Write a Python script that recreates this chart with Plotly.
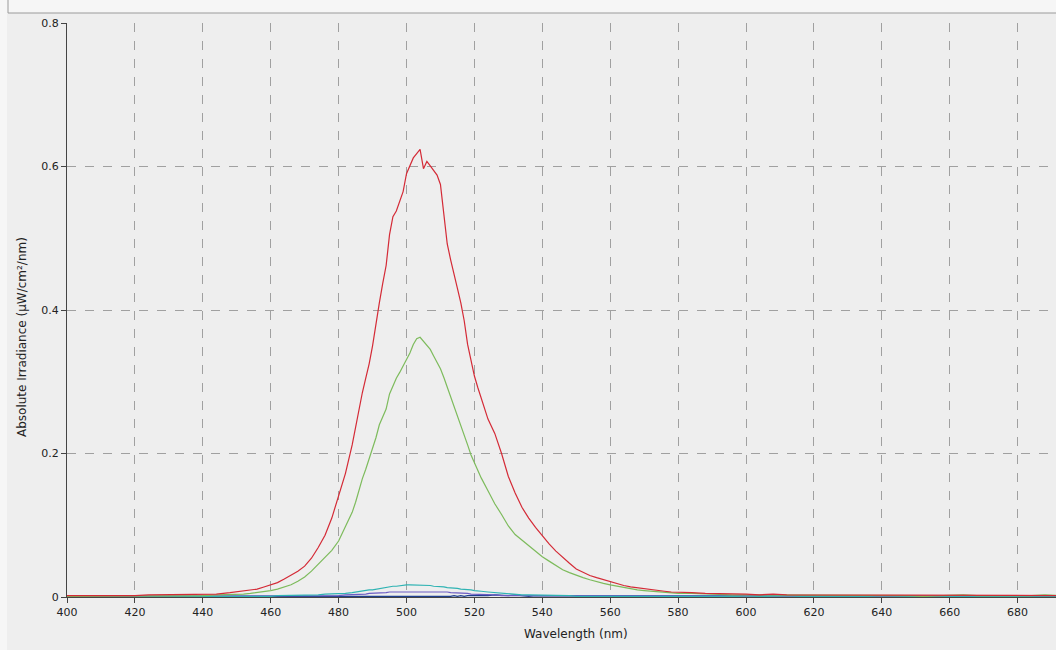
import plotly.graph_objects as go

# wavelength grid (nm)
wl = ([400, 404, 408, 412, 416, 420, 424, 428, 432, 436, 440, 444, 448]
      + list(range(450, 483, 2))
      + list(range(484, 523, 1))
      + list(range(524, 581, 2))
      + list(range(584, 693, 4)))

red = ([0.002, 0.002, 0.001, 0.002, 0.002, 0.002, 0.003, 0.003, 0.003, 0.003, 0.004, 0.004, 0.006]
       + [0.007, 0.008, 0.009, 0.011, 0.014, 0.017, 0.020, 0.025, 0.030, 0.036, 0.043, 0.054, 0.069, 0.086, 0.110, 0.142, 0.172]
       + [0.212, 0.238, 0.262, 0.285, 0.305, 0.325, 0.350, 0.383, 0.410, 0.437, 0.462, 0.505, 0.530, 0.538, 0.552, 0.565,
          0.590, 0.602, 0.612, 0.618, 0.624, 0.597, 0.607, 0.601, 0.595, 0.588, 0.575, 0.535, 0.492, 0.470, 0.448, 0.430,
          0.410, 0.385, 0.352, 0.328, 0.308, 0.292, 0.277]
       + [0.248, 0.228, 0.200, 0.168, 0.145, 0.125, 0.110, 0.097, 0.085, 0.074, 0.064, 0.055, 0.047, 0.039, 0.034, 0.030,
          0.027, 0.024, 0.021, 0.018, 0.016, 0.014, 0.013, 0.011, 0.010, 0.009, 0.008, 0.007, 0.007]
       + [0.006, 0.005, 0.005, 0.004, 0.004, 0.003, 0.004, 0.003, 0.003, 0.002, 0.003, 0.003, 0.002, 0.003, 0.002, 0.003,
          0.002, 0.002, 0.003, 0.002, 0.002, 0.003, 0.002, 0.002, 0.003, 0.002, 0.002, 0.002])

green = ([0.001, 0.001, 0.001, 0.001, 0.001, 0.001, 0.002, 0.002, 0.002, 0.002, 0.002, 0.003, 0.003]
         + [0.004, 0.004, 0.005, 0.006, 0.007, 0.009, 0.011, 0.014, 0.017, 0.022, 0.028, 0.036, 0.046, 0.056, 0.065, 0.078, 0.098]
         + [0.118, 0.132, 0.150, 0.165, 0.178, 0.192, 0.205, 0.222, 0.240, 0.252, 0.262, 0.283, 0.295, 0.305, 0.313, 0.322,
            0.330, 0.340, 0.352, 0.360, 0.362, 0.356, 0.350, 0.345, 0.336, 0.328, 0.318, 0.306, 0.293, 0.280, 0.266, 0.254,
            0.240, 0.227, 0.212, 0.198, 0.187, 0.177, 0.166]
         + [0.148, 0.130, 0.115, 0.099, 0.087, 0.079, 0.071, 0.063, 0.056, 0.050, 0.044, 0.038, 0.034, 0.030, 0.027, 0.024,
            0.021, 0.019, 0.017, 0.015, 0.013, 0.011, 0.010, 0.009, 0.008, 0.007, 0.006, 0.006, 0.005]
         + [0.005, 0.004, 0.004, 0.003, 0.003, 0.003, 0.002, 0.003, 0.002, 0.002, 0.003, 0.002, 0.002, 0.002, 0.003, 0.002,
            0.002, 0.001, 0.002, 0.002, 0.003, 0.002, 0.002, 0.001, 0.002, 0.002, 0.003, 0.002])

teal = ([0.000, 0.001, 0.000, 0.000, 0.001, 0.000, 0.000, 0.001, 0.000, 0.000, 0.000, 0.001, 0.001]
        + [0.001, 0.001, 0.001, 0.001, 0.001, 0.001, 0.002, 0.002, 0.002, 0.002, 0.003, 0.003, 0.003, 0.004, 0.004, 0.005, 0.005]
        + [0.006, 0.007, 0.007, 0.008, 0.009, 0.010, 0.010, 0.011, 0.012, 0.013, 0.014, 0.014, 0.015, 0.015, 0.016, 0.016,
           0.017, 0.017, 0.017, 0.017, 0.017, 0.016, 0.016, 0.016, 0.015, 0.015, 0.014, 0.014, 0.013, 0.013, 0.012, 0.012,
           0.011, 0.011, 0.010, 0.010, 0.009, 0.008, 0.008]
        + [0.007, 0.006, 0.005, 0.004, 0.004, 0.003, 0.003, 0.003, 0.002, 0.002, 0.002, 0.002, 0.002, 0.001, 0.001, 0.001,
           0.001, 0.001, 0.001, 0.001, 0.001, 0.001, 0.001, 0.001, 0.001, 0.001, 0.001, 0.001, 0.001]
        + [0.001, 0.002, 0.001, 0.001, 0.000, 0.001, 0.001, 0.002, 0.001, 0.001, 0.001, 0.000, 0.001, 0.001, 0.002, 0.001,
           0.001, 0.001, 0.000, 0.001, 0.001, 0.002, 0.001, 0.001, 0.001, 0.001, 0.002, 0.001])

purple = ([0.001, 0.001, 0.001, 0.001, 0.001, 0.001, 0.001, 0.001, 0.001, 0.001, 0.001, 0.001, 0.001]
          + [0.001, 0.001, 0.001, 0.001, 0.001, 0.001, 0.001, 0.001, 0.001, 0.001, 0.002, 0.002, 0.002, 0.002, 0.002, 0.002, 0.003]
          + [0.003, 0.003, 0.004, 0.004, 0.004, 0.005, 0.005, 0.005, 0.006, 0.006, 0.006, 0.007, 0.007, 0.007, 0.007, 0.008,
             0.008, 0.008, 0.008, 0.008, 0.008, 0.008, 0.008, 0.008, 0.008, 0.007, 0.007, 0.007, 0.007, 0.006, 0.006, 0.005,
             0.005, 0.005, 0.005, 0.004, 0.004, 0.004, 0.004]
          + [0.004, 0.003, 0.002, 0.002, 0.002, 0.002, 0.002, 0.002, 0.002, 0.001, 0.001, 0.001, 0.001, 0.001, 0.001, 0.001,
             0.001, 0.001, 0.001, 0.001, 0.001, 0.001, 0.001, 0.001, 0.001, 0.001, 0.001, 0.001, 0.001]
          + [0.001] * 28)

navy = ([0.001, 0.000, 0.001, 0.001, 0.000, 0.001, 0.001, 0.000, 0.001, 0.000, 0.001, 0.001, 0.000]
        + [0.001, 0.000, 0.001, 0.001, 0.000, 0.001, 0.000, 0.001, 0.001, 0.000, 0.001, 0.001, 0.000, 0.001, 0.001, 0.000, 0.001]
        + [0.001, 0.000, 0.001, 0.001, 0.000, 0.001, 0.001, 0.000, 0.001, 0.001, 0.000, 0.001, 0.001, 0.000, 0.001, 0.001,
           0.000, 0.001, 0.001, 0.000, 0.001, 0.001, 0.000, 0.001, 0.001, 0.000, 0.001, 0.001, 0.000, 0.001, 0.002, 0.001,
           0.002, 0.001, 0.002, 0.002, 0.001, 0.002, 0.002]
        + [0.002, 0.003, 0.002, 0.002, 0.003, 0.002, 0.001, 0.002, 0.002, 0.001, 0.002, 0.001, 0.001, 0.002, 0.001, 0.001,
           0.002, 0.001, 0.001, 0.002, 0.001, 0.001, 0.002, 0.001, 0.001, 0.001, 0.002, 0.001, 0.001]
        + [0.001, 0.002, 0.001, 0.001, 0.002, 0.001, 0.001, 0.001, 0.002, 0.001, 0.001, 0.002, 0.001, 0.001, 0.001, 0.002,
           0.001, 0.001, 0.002, 0.001, 0.001, 0.001, 0.002, 0.001, 0.001, 0.002, 0.001, 0.001])

x_ticks = list(range(400, 681, 20))
y_ticks = [0, 0.2, 0.4, 0.6, 0.8]
y_tick_text = ["0", "0.2", "0.4", "0.6", "0.8"]

FONT = "Lucida Grande, DejaVu Sans, sans-serif"
BG = "#eeeeee"

fig = go.Figure()
series = [
    (navy, "#1f3f8f"),
    (purple, "#6c5cc4"),
    (teal, "#2fb3b3"),
    (green, "#7dbb5c"),
    (red, "#d42a36"),
]
for vals, col in series:
    fig.add_trace(go.Scatter(x=wl, y=vals, mode="lines",
                             line=dict(color=col, width=1.2), showlegend=False,
                             hoverinfo="skip"))

L, T, B = 67, 23, 53
W, H = 1056, 650
pw, ph = W - L, H - T - B

def px(x):
    return (x - L) / pw

def py(y):
    return (H - B - y) / ph

fig.update_layout(
    width=W, height=H,
    margin=dict(l=L, r=0, t=T, b=B, pad=0),
    paper_bgcolor=BG, plot_bgcolor=BG,
    font=dict(family=FONT, size=11, color="#222222"),
    xaxis=dict(range=[400, 400 + pw / 3.395], tickvals=x_ticks,
               showgrid=True, gridcolor="#a0a0a0", griddash="dash", gridwidth=1,
               showline=True, linecolor="#444444", linewidth=1,
               ticks="outside", ticklen=5, tickcolor="#444444",
               zeroline=False, fixedrange=True),
    yaxis=dict(range=[0, 0.8], tickvals=y_ticks, ticktext=y_tick_text,
               showgrid=True, gridcolor="#a0a0a0", griddash="dash", gridwidth=1,
               showline=True, linecolor="#444444", linewidth=1,
               ticks="outside", ticklen=5, tickcolor="#444444",
               zeroline=False, fixedrange=True),
    shapes=[
        dict(type="rect", xref="paper", yref="paper", x0=px(-2), x1=px(W + 5),
             y0=py(13), y1=py(-2), fillcolor="#f6f6f6", line=dict(width=0), layer="below"),
        dict(type="line", xref="paper", yref="paper", x0=px(8), x1=px(W + 5),
             y0=py(13), y1=py(13), line=dict(color="#9a9a9a", width=1)),
        dict(type="line", xref="paper", yref="paper", x0=px(8), x1=px(8),
             y0=py(13), y1=py(-2), line=dict(color="#9a9a9a", width=1)),
        dict(type="rect", xref="paper", yref="paper", x0=px(-2), x1=px(7),
             y0=py(H + 2), y1=py(13), fillcolor="#f6f6f6", line=dict(width=0), layer="below"),
    ],
    annotations=[
        dict(text="Wavelength (nm)", xref="paper", yref="paper", x=px(576), y=py(634),
             showarrow=False, font=dict(size=12, family=FONT, color="#222222"),
             xanchor="center", yanchor="middle"),
        dict(text="Absolute Irradiance (µW/cm²/nm)", xref="paper", yref="paper",
             x=px(22), y=py(337), textangle=-90, showarrow=False,
             font=dict(size=12, family=FONT, color="#222222"),
             xanchor="center", yanchor="middle"),
    ],
)

fig.write_html(
    "out.html",
    config={"displayModeBar": False},
    post_script="document.body.style.margin='0';document.body.style.overflow='hidden';",
)
